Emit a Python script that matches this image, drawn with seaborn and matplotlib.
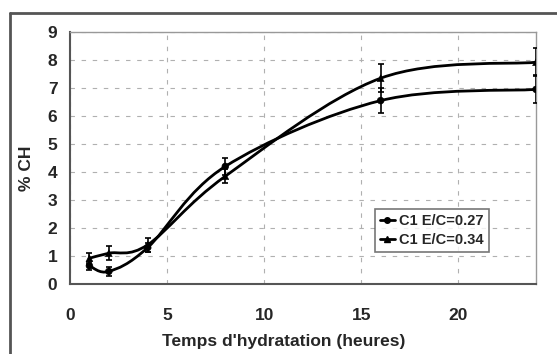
import numpy as np
import pandas as pd
import seaborn as sns
import matplotlib
matplotlib.use("Agg")
import matplotlib.pyplot as plt
from matplotlib.path import Path
from matplotlib.patches import PathPatch
from matplotlib.lines import Line2D

# ---- data ----
hours = [1, 2, 4, 8, 16, 24]
ch_027 = [0.65, 0.45, 1.30, 4.20, 6.55, 6.95]
err_027 = [0.15, 0.15, 0.15, 0.30, 0.45, 0.50]
ch_034 = [0.92, 1.10, 1.40, 3.85, 7.35, 7.92]
err_034 = [0.20, 0.25, 0.25, 0.25, 0.50, 0.50]
labels = ["C1 E/C=0.27", "C1 E/C=0.34"]
x_ticks = [0, 5, 10, 15, 20]
y_ticks = list(range(0, 10))

df = pd.DataFrame({
    "h": hours * 2,
    "ch": ch_027 + ch_034,
    "err": err_027 + err_034,
    "serie": [labels[0]] * len(hours) + [labels[1]] * len(hours),
})

sns.set_theme(style="white")
plt.rcParams["font.family"] = ["Liberation Sans", "DejaVu Sans"]
plt.rcParams["font.weight"] = "bold"

fig = plt.figure(figsize=(5.57, 3.54), dpi=100)
ax = fig.add_axes([70 / 557, 1 - 284 / 354, 466 / 557, 252 / 354])


def smooth_path(xs, ys):
    """Excel-style smoothed line (Catmull-Rom as cubic Bezier)."""
    xs = np.asarray(xs, float)
    ys = np.asarray(ys, float)
    n = len(xs)
    verts = [(xs[0], ys[0])]
    codes = [Path.MOVETO]
    for i in range(n - 1):
        i0 = max(i - 1, 0)
        i3 = min(i + 2, n - 1)
        c1 = (xs[i] + (xs[i + 1] - xs[i0]) / 6, ys[i] + (ys[i + 1] - ys[i0]) / 6)
        c2 = (xs[i + 1] - (xs[i3] - xs[i]) / 6, ys[i + 1] - (ys[i3] - ys[i]) / 6)
        verts += [c1, c2, (xs[i + 1], ys[i + 1])]
        codes += [Path.CURVE4] * 3
    return Path(verts, codes)


markers = {labels[0]: "o", labels[1]: "^"}
handles = []
for lab in labels:
    sub = df[df["serie"] == lab]
    ax.add_patch(PathPatch(smooth_path(sub["h"], sub["ch"]), fill=False,
                           edgecolor="black", lw=2.0, zorder=3))
    ax.errorbar(sub["h"], sub["ch"], yerr=sub["err"], fmt="none",
                ecolor="black", elinewidth=1.2, capsize=2.5, capthick=1.2, zorder=4)
sns.scatterplot(data=df, x="h", y="ch", hue="serie", style="serie",
                markers=markers, palette=["black", "black"], s=24,
                edgecolor="black", ax=ax, zorder=5, legend=False)

for lab in labels:
    handles.append(Line2D([0], [0], color="black", lw=2, marker=markers[lab],
                          markersize=4, label=lab))

ax.set_xlim(0, 24)
ax.set_ylim(0, 9)
ax.set_xticks(x_ticks)
ax.set_yticks(y_ticks)
ax.grid(True, color="#b0b0b0", linestyle=(0, (4, 6)), lw=0.8)
ax.set_axisbelow(True)
for s in ["top", "right"]:
    ax.spines[s].set_color("#999999")
    ax.spines[s].set_linewidth(1.0)
for s in ["left", "bottom"]:
    ax.spines[s].set_color("#555555")
    ax.spines[s].set_linewidth(1.5)
ax.tick_params(axis="both", which="major", direction="out", length=5,
               width=1.2, color="#555555", labelsize=12.5, pad=4)
ax.tick_params(axis="x", pad=12)
for t in ax.get_xticklabels() + ax.get_yticklabels():
    t.set_fontweight("bold")

ax.set_xlabel("Temps d'hydratation (heures)", fontsize=12.5, fontweight="bold", labelpad=6)
ax.set_ylabel("% CH", fontsize=12.5, fontweight="bold", labelpad=6)
ax.xaxis.set_label_coords((284 - 70) / 466, -0.2)
ax.yaxis.set_label_coords((34 - 70) / 466, (284 - 168) / 252)

leg = ax.legend(handles=handles, loc="upper left",
                bbox_to_anchor=((375 - 70) / 466, (284 - 209) / 252),
                frameon=True, fancybox=False, fontsize=10.5, handlelength=1.0,
                handletextpad=0.3, borderpad=0.35, labelspacing=0.35, borderaxespad=0)
leg.get_frame().set_edgecolor("#555555")
leg.get_frame().set_linewidth(1.2)
for t in leg.get_texts():
    t.set_fontweight("bold")

# outer chart frame
fig.add_artist(Line2D([10 / 557, 10 / 557], [0, 1 - 13 / 354], color="#555555", lw=2,
                      transform=fig.transFigure))
fig.add_artist(Line2D([10 / 557, 1], [1 - 13 / 354, 1 - 13 / 354], color="#555555", lw=2,
                      transform=fig.transFigure))

fig.savefig("out.png", dpi=100)
